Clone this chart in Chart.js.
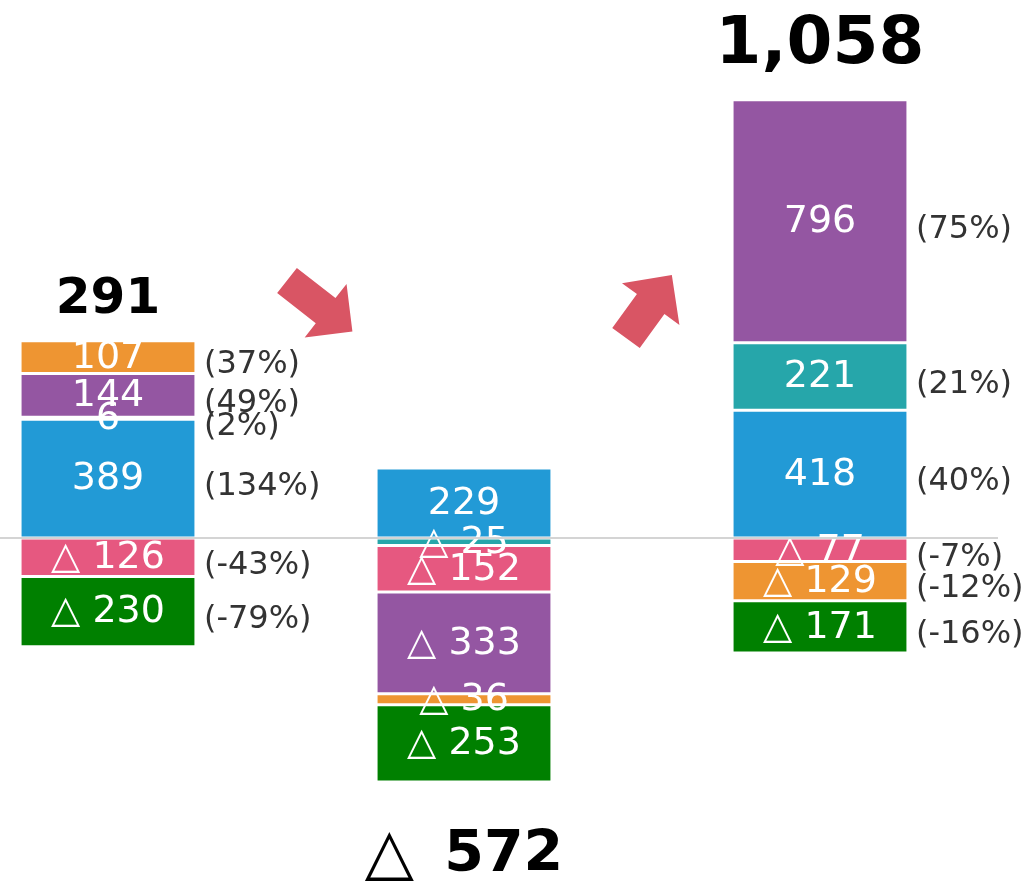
<!DOCTYPE html>
<html>
<head>
<meta charset="utf-8">
<script src="https://cdn.jsdelivr.net/npm/chart.js@4"></script>
<style>
  html, body { margin: 0; padding: 0; background: #fff; overflow: hidden; }
  #wrap { position: absolute; left: -70px; top: 0; width: 1104px; height: 881px; }
</style>
</head>
<body>
<div id="wrap"><canvas id="chart"></canvas></div>
<script>
// three periods, stacked by component
const categories = ['A', 'B', 'C'];
const blueValues   = [389, 229, 418];
const tealValues   = [6, -25, 221];
const pinkValues   = [-126, -152, -77];
const purpleValues = [144, -333, 796];
const orangeValues = [107, -36, -129];
const greenValues  = [-230, -253, -171];
// totals as printed (components are rounded)
const totalValues  = [291, -572, 1058];

const seriesList = [
  { data: blueValues,   color: '#229ad6' },
  { data: tealValues,   color: '#26a6aa' },
  { data: pinkValues,   color: '#e65880' },
  { data: purpleValues, color: '#9456a2' },
  { data: orangeValues, color: '#ee9532' },
  { data: greenValues,  color: '#008000' }
];

const FONT = '"DejaVu Sans", Verdana, sans-serif';
const totalFontSizes = [50, 62, 66];

function fmt(v) {
  const s = Math.abs(v).toLocaleString('en-US');
  return v < 0 ? '\u25B3 ' + s : s;
}

function drawArrow(ctx, x, y, ang, shaftLen, shaftW, headLen, headW) {
  ctx.save();
  ctx.translate(x, y);
  ctx.rotate(ang);
  ctx.beginPath();
  ctx.moveTo(0, -shaftW / 2);
  ctx.lineTo(shaftLen, -shaftW / 2);
  ctx.lineTo(shaftLen, -headW / 2);
  ctx.lineTo(shaftLen + headLen, 0);
  ctx.lineTo(shaftLen, headW / 2);
  ctx.lineTo(shaftLen, shaftW / 2);
  ctx.lineTo(0, shaftW / 2);
  ctx.closePath();
  ctx.fillStyle = '#d95564';
  ctx.fill();
  ctx.restore();
}

const labelPlugin = {
  id: 'labels',
  afterDatasetsDraw(chart) {
    const ctx = chart.ctx;
    const yScale = chart.scales.y;

    ctx.save();
    ctx.textBaseline = 'middle';
    chart.data.datasets.forEach((ds, i) => {
      const meta = chart.getDatasetMeta(i);
      meta.data.forEach((el, j) => {
        const v = ds.data[j];
        if (!v) return;
        const cy = (el.y + el.base) / 2;
        ctx.fillStyle = '#fff';
        ctx.textAlign = 'center';
        ctx.font = '38px ' + FONT;
        ctx.fillText(fmt(v), el.x, cy + 1);
        if (totalValues[j] > 0) {
          const pct = Math.round(v / totalValues[j] * 100);
          ctx.fillStyle = '#333';
          ctx.textAlign = 'left';
          ctx.font = '32px ' + FONT;
          ctx.fillText('(' + pct + '%)', el.x + el.width / 2 + 8, cy + 8);
        }
      });
    });

    // totals above / below each bar
    const meta0 = chart.getDatasetMeta(0);
    totalValues.forEach((t, j) => {
      const x = meta0.data[j].x;
      const fs = totalFontSizes[j];
      let pos = 0, neg = 0;
      seriesList.forEach(d => { if (d.data[j] > 0) pos += d.data[j]; else neg += d.data[j]; });
      ctx.fillStyle = '#000';
      if (t >= 0) {
        const y = yScale.getPixelForValue(pos) - fs * 0.82;
        ctx.textAlign = 'center';
        ctx.font = 'bold ' + fs + 'px ' + FONT;
        ctx.fillText(t.toLocaleString('en-US'), x, y);
      } else {
        const y = yScale.getPixelForValue(neg) + fs * 1.2;
        const tri = '\u25B3 ';
        const num = Math.abs(t).toLocaleString('en-US');
        ctx.font = (fs + 2) + 'px ' + FONT;
        const w1 = ctx.measureText(tri).width + 10;
        ctx.font = 'bold ' + (fs - 5) + 'px ' + FONT;
        const w2 = ctx.measureText(num).width;
        const left = x - (w1 + w2) / 2;
        ctx.textAlign = 'left';
        ctx.font = (fs + 2) + 'px ' + FONT;
        ctx.fillText(tri, left, y);
        ctx.font = 'bold ' + (fs - 5) + 'px ' + FONT;
        ctx.fillText(num, left + w1, y);
      }
    });

    // arrows between the bars
    const x0 = meta0.data[0].x, x1 = meta0.data[1].x;
    drawArrow(ctx, x0 + 179, 280.5, 38 * Math.PI / 180, 49, 32, 34, 68);
    drawArrow(ctx, x1 + 162, 338, -54 * Math.PI / 180, 42, 34, 36, 71);
    ctx.restore();
  },
  afterDraw(chart) {
    const ctx = chart.ctx;
    const y0 = chart.scales.y.getPixelForValue(0);
    ctx.save();
    ctx.strokeStyle = '#d4d4d4';
    ctx.lineWidth = 2;
    ctx.beginPath();
    ctx.moveTo(chart.chartArea.left, y0);
    ctx.lineTo(chart.chartArea.right, y0);
    ctx.stroke();
    ctx.restore();
  }
};

new Chart(document.getElementById('chart'), {
  type: 'bar',
  data: {
    labels: categories,
    datasets: seriesList.map(s => ({
      data: s.data,
      backgroundColor: s.color,
      borderColor: '#fff',
      borderWidth: 1.5,
      borderSkipped: false,
      categoryPercentage: 1,
      barPercentage: 0.494
    }))
  },
  options: {
    responsive: true,
    maintainAspectRatio: false,
    animation: false,
    layout: { padding: { left: 0, top: 0, bottom: 0, right: 36 } },
    plugins: { legend: { display: false }, tooltip: { enabled: false } },
    scales: {
      x: { stacked: true, display: false },
      y: { stacked: true, display: false, min: -1123.5, max: 1762 }
    }
  },
  plugins: [labelPlugin]
});
</script>
</body>
</html>
